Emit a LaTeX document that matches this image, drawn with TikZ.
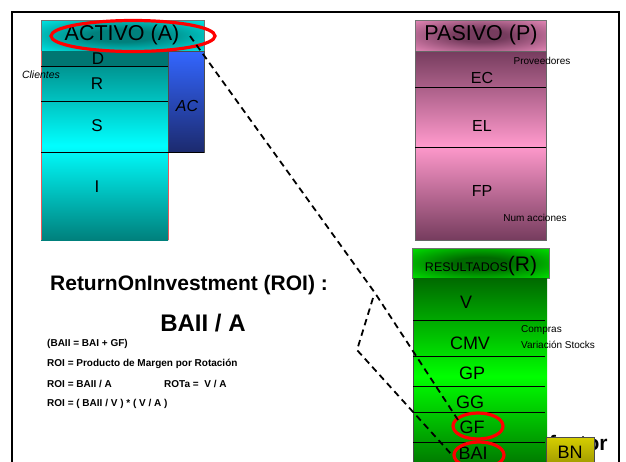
\documentclass[tikz,border=0pt]{standalone}
\usepackage{fontspec}
\setmainfont{Liberation Sans}
\usetikzlibrary{shapes.geometric}
\definecolor{tealD}{RGB}{0,118,114}
\definecolor{tealM}{RGB}{0,128,124}
\definecolor{cyanB}{RGB}{0,255,255}
\definecolor{acTop}{RGB}{51,102,255}
\definecolor{acBot}{RGB}{28,42,110}
\definecolor{pinkB}{RGB}{255,153,204}
\definecolor{mauveD}{RGB}{118,60,94}
\definecolor{greenB}{RGB}{0,255,0}
\definecolor{greenD}{RGB}{0,105,0}
\definecolor{bnTop}{RGB}{214,206,0}
\definecolor{bnBot}{RGB}{140,134,0}
\definecolor{colRed}{RGB}{230,90,90}
\pgfdeclareradialshading{hdrA}{\pgfpoint{0bp}{0bp}}{color(0bp)=(tealM); color(10bp)=(tealM); color(42bp)=(cyanB); color(50bp)=(cyanB)}
\pgfdeclareradialshading{hdrP}{\pgfpoint{0bp}{0bp}}{color(0bp)=(mauveD); color(10bp)=(mauveD); color(42bp)=(pinkB); color(50bp)=(pinkB)}
\pgfdeclareradialshading{hdrR}{\pgfpoint{0bp}{0bp}}{color(0bp)=(greenD); color(10bp)=(greenD); color(42bp)=(greenB); color(50bp)=(greenB)}
\tikzset{
  fs/.style={font=\fontsize{#1}{#1}\selectfont},
  txt/.style={inner sep=0pt, text=black},
  sepline/.style={draw=black, line width=0.9pt},
  boxline/.style={draw=black!55, line width=0.6pt},
  redring/.style={draw=red, line width=3.2pt, ellipse, fill=none},
  link/.style={draw=black, dashed, dash pattern=on 6.5pt off 4.5pt, line width=1.8pt},
  note/.style={inner sep=0pt, font=\fontsize{10}{12}\selectfont},
  formula/.style={inner sep=0pt, anchor=west, font=\bfseries\fontsize{10}{12}\selectfont}
}
\begin{document}
\begin{tikzpicture}[x=1pt,y=-1pt]
\useasboundingbox (0,0) rectangle (626,461);
\clip (0,0) rectangle (626,461);
\fill[white] (0,0) rectangle (626,461);
% frame
\draw[line width=2.6pt] (12,12) rectangle (619,500);

% ---------- ACTIVO ----------
\shade[shading=hdrA] (41,20) rectangle (204,51);
\draw[boxline] (41,20) rectangle (204,51);
\shade[top color=tealM, bottom color=tealM, middle color=cyanB] (41,51) rectangle (168,240);
\fill[tealD] (41,51) rectangle (168,66);
\shade[top color=acTop, bottom color=acBot] (168,51) rectangle (204,152);
\draw[draw=black!70, line width=0.6pt] (168,51) rectangle (204,152);
\draw[draw=colRed, line width=1pt] (41.5,51) -- (41.5,240);
\draw[draw=colRed, line width=1pt] (168,152) -- (168,240);
\draw[sepline] (41,66) -- (168,66);
\draw[sepline] (41,101) -- (168,101);
\draw[sepline] (41,152) -- (204,152);
\node[txt, fs=21.5] (actT) at (122,35) {ACTIVO (A)};
\node[txt, fs=17] (actD) at (98,59) {D};
\node[txt, fs=17] (actR) at (97,84) {R};
\node[txt, fs=17] (actS) at (97,126) {S};
\node[txt, fs=17] (actI) at (97,187) {I};
\node[txt, font=\itshape\fontsize{16}{16}\selectfont] (actAC) at (187,106) {AC};
\node[note, font=\itshape\fontsize{10.5}{12}\selectfont] (cli) at (41,75) {Clientes};

% ---------- PASIVO ----------
\shade[shading=hdrP] (415,20) rectangle (546,51);
\draw[boxline] (415,20) rectangle (546,51);
\shade[top color=mauveD, bottom color=mauveD, middle color=pinkB] (415,51) rectangle (546,240);
\draw[draw=black!60, line width=0.6pt] (415,51) rectangle (546,240);
\draw[sepline] (415,87) -- (546,87);
\draw[sepline] (415,147) -- (546,147);
\node[txt, fs=21.5] (pasT) at (481,35) {PASIVO (P)};
\node[txt, fs=16] (pasEC) at (482,78) {EC};
\node[txt, fs=16] (pasEL) at (482,126) {EL};
\node[txt, fs=16] (pasFP) at (482,191) {FP};
\node[note] (prov) at (542,61) {Proveedores};
\node[note] (numac) at (535,218) {Num acciones};

% ---------- RESULTADOS ----------
\shade[shading=hdrR] (412,248) rectangle (549,278);
\draw[boxline] (412,248) rectangle (549,278);
\shade[top color=greenD, bottom color=greenD, middle color=greenB] (413,278) rectangle (547,475);
\draw[draw=black!70, line width=0.7pt] (413,278) -- (413,475);
\draw[sepline] (413,320) -- (545,320);
\draw[sepline] (413,356) -- (545,356);
\draw[sepline] (413,386) -- (545,386);
\draw[sepline] (413,412) -- (545,412);
\draw[sepline] (413,442) -- (545,442);
\node[txt, anchor=base] (resT) at (481,271) {\fontsize{12.5}{13}\selectfont RESULTADOS\fontsize{21}{21}\selectfont(R)};
\node[txt, fs=18] (rV) at (466,302) {V};
\node[txt, fs=18] (rCMV) at (470,343) {CMV};
\node[txt, fs=18] (rGP) at (472,373) {GP};
\node[txt, fs=18] (rGG) at (470,402) {GG};
\node[txt, fs=18] (rGF) at (472,427) {GF};
\node[txt, fs=18] (rBAI) at (473,453) {BAI};
\node[note, anchor=west] (compras) at (521,330) {Compras};
\node[note, anchor=west] (varst) at (521,345) {Variación Stocks};

% text partly hidden behind BN
\node[txt, anchor=base west, font=\bfseries\fontsize{21}{21}\selectfont] (factor) at (549,450) {factor};
\shade[top color=bnTop, bottom color=bnBot] (546,437) rectangle (594,475);
\draw[draw=black!70, line width=0.7pt] (546,437) rectangle (594,475);
\node[txt, fs=18] (bn) at (570,452) {BN};

% ---------- ROI text ----------
\node[txt, font=\bfseries\fontsize{21}{21}\selectfont] (roiT) at (189,285) {ReturnOnInvestment (ROI) :};
\node[txt, font=\bfseries\fontsize{24}{24}\selectfont] (baii) at (203,323) {BAII / A};
\node[formula] (f1) at (47,344) {(BAII = BAI + GF)};
\node[formula] (f2) at (47,364) {ROI = Producto de Margen por Rotación};
\node[formula] (f3) at (47,384) {ROI = BAII / A};
\node[formula] (f3b) at (164,384) {ROTa =\ \ V / A};
\node[formula] (f4) at (47,404) {ROI = ( BAII / V ) * ( V / A )};

% ---------- red rings ----------
\node[redring, minimum width=164pt, minimum height=31pt] (ringA) at (133,36) {};
\node[redring, minimum width=50pt, minimum height=26pt] (ringGF) at (478,426) {};
\node[redring, minimum width=50pt, minimum height=26pt] (ringBAI) at (479,455) {};

% ---------- dashed connectors ----------
\coordinate (startA) at (190,36);
\coordinate (bend1) at (375,293);
\coordinate (endGF) at (458,420);
\coordinate (apex) at (373,298);
\coordinate (bend2) at (357,350);
\coordinate (endBAI) at (452,455);
\draw[link] (startA) -- (bend1) -- (endGF);
\draw[link] (apex) -- (bend2) -- (endBAI);
\end{tikzpicture}
\end{document}
